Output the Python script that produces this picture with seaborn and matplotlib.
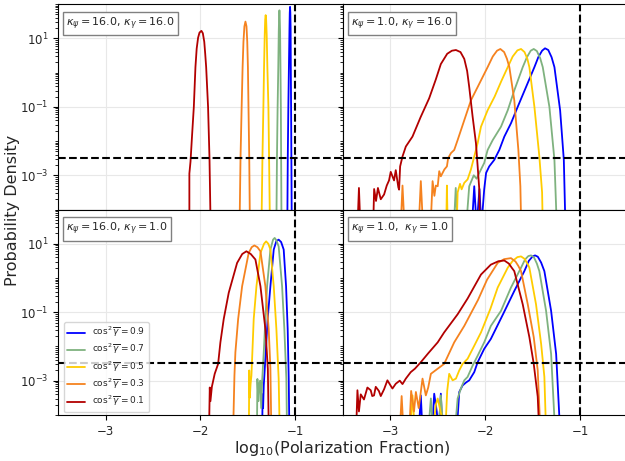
import numpy as np
import matplotlib
matplotlib.use("Agg")
import matplotlib.pyplot as plt
import seaborn as sns
from matplotlib.ticker import LogLocator, NullFormatter

# values: x = log10(polarization fraction), y = log10(probability density)
COS2 = ["0.9", "0.7", "0.5", "0.3", "0.1"]
COLORS = ["#0000ff", "#7fb27f", "#ffcc00", "#f5821f", "#b20000"]
PANEL_LABELS = [
    r"$\kappa_\psi = 16.0$, $\kappa_\gamma = 16.0$",
    r"$\kappa_\psi = 1.0$, $\kappa_\gamma = 16.0$",
    r"$\kappa_\psi = 16.0$, $\kappa_\gamma = 1.0$",
    r"$\kappa_\psi = 1.0$,  $\kappa_\gamma = 1.0$",
]
X_CUT = -1.0
Y_CUT = 3.2e-3

# top left: kappa_psi = 16, kappa_gamma = 16
tl_09_x = [-1.085, -1.08, -1.074, -1.068, -1.062, -1.059, -1.056, -1.053, -1.05, -1.048, -1.045, -1.042, -1.038]
tl_09_y = [-4.5, -2.5, -1.0, 0.16, 1.3, 1.75, 1.92, 1.75, 1.3, 0.16, -1.0, -2.5, -4.5]
tl_07_x = [-1.2, -1.194, -1.187, -1.18, -1.175, -1.171, -1.168, -1.165, -1.161, -1.157, -1.153, -1.15, -1.146]
tl_07_y = [-4.5, -2.5, -1.0, 0.16, 1.2, 1.65, 1.82, 1.65, 1.2, 0.16, -1.0, -2.5, -4.5]
tl_05_x = [-1.357, -1.347, -1.337, -1.33, -1.323, -1.318, -1.313, -1.308, -1.302, -1.295, -1.284, -1.277, -1.268]
tl_05_y = [-4.5, -2.5, -1.0, 0.16, 1.1, 1.55, 1.68, 1.55, 1.1, 0.16, -1.0, -2.5, -4.5]
tl_03_x = [-1.588, -1.578, -1.566, -1.556, -1.547, -1.537, -1.526, -1.515, -1.507, -1.5, -1.494, -1.486, -1.479]
tl_03_y = [-4.5, -2.5, -1.0, 0.16, 0.9, 1.35, 1.49, 1.35, 0.9, 0.16, -1.0, -2.5, -4.5]
tl_01_x = [-2.117, -2.117, -2.105, -2.09, -2.07, -2.053, -2.04, -2.025, -2.01, -1.99, -1.975, -1.96,
           -1.95, -1.94, -1.92, -1.905, -1.893]
tl_01_y = [-4.5, -2.95, -2.6, -1.9, -1.0, 0.16, 0.7, 1.02, 1.17, 1.22, 1.15, 0.9,
           0.55, 0.16, -1.0, -2.5, -4.5]

# top right: kappa_psi = 1, kappa_gamma = 16
tr_09_x = [-2.14, -2.115, -2.09, -2.06, -2.04, -2.01, -1.99, -1.957, -1.904, -1.851, -1.798, -1.728,
           -1.657, -1.569, -1.481, -1.44, -1.40, -1.369, -1.335, -1.30, -1.27, -1.21, -1.171, -1.154]
tr_09_y = [-4.5, -3.32, -4.5, -3.4, -4.5, -3.41, -2.93, -2.74, -2.55, -2.26, -1.87, -1.48,
           -1.0, -0.42, 0.16, 0.45, 0.64, 0.71, 0.66, 0.45, 0.16, -1.1, -2.55, -4.5]
tr_07_x = [-2.33, -2.31, -2.29, -2.20, -2.168, -2.12, -2.09, -2.062, -2.01, -1.974, -1.92, -1.833,
           -1.762, -1.693, -1.604, -1.56, -1.52, -1.488, -1.455, -1.42, -1.393, -1.323, -1.27, -1.245]
tr_07_y = [-4.5, -3.37, -4.5, -4.5, -3.32, -3.0, -3.1, -2.93, -2.64, -2.26, -1.97, -1.58,
           -1.1, -0.52, 0.16, 0.45, 0.64, 0.69, 0.63, 0.42, 0.16, -1.0, -2.55, -4.5]
tr_05_x = [-2.41, -2.403, -2.395, -2.30, -2.29, -2.265, -2.248, -2.22, -2.185, -2.15, -2.115, -2.079,
           -2.044, -1.974, -1.90, -1.83, -1.762, -1.71, -1.66, -1.622, -1.585, -1.555, -1.534,
           -1.481, -1.429, -1.40, -1.393]
tr_05_y = [-4.5, -3.3, -4.5, -4.5, -3.5, -3.25, -3.41, -3.22, -3.12, -2.83, -2.45, -2.06,
           -1.58, -1.1, -0.7, -0.25, 0.16, 0.47, 0.65, 0.69, 0.6, 0.4, 0.16,
           -1.0, -2.45, -3.5, -4.5]
tr_03_x = [-2.89, -2.871, -2.85, -2.70, -2.678, -2.655, -2.575, -2.554, -2.535, -2.52, -2.50, -2.484,
           -2.467, -2.43, -2.403, -2.39, -2.36, -2.326, -2.29, -2.22, -2.15, -2.079, -1.974, -1.92,
           -1.875, -1.84, -1.80, -1.77, -1.745, -1.693, -1.65, -1.629, -1.62]
tr_03_y = [-4.5, -3.3, -4.5, -4.5, -3.17, -4.5, -4.5, -3.17, -3.6, -3.3, -3.32, -2.88,
           -3.03, -2.83, -2.74, -2.5, -2.35, -2.26, -1.97, -1.39, -0.81, -0.42, 0.16, 0.47,
           0.64, 0.69, 0.6, 0.4, 0.16, -0.81, -2.26, -3.32, -4.5]
tr_01_x = [-3.345, -3.33, -3.315, -3.18, -3.17, -3.15, -3.13, -3.10, -3.065, -3.037, -3.013, -2.995,
           -2.96, -2.942, -2.915, -2.907, -2.896, -2.871, -2.836, -2.766, -2.68, -2.59, -2.52,
           -2.467, -2.40, -2.35, -2.308, -2.26, -2.22, -2.19, -2.168, -2.132, -2.097, -2.079,
           -2.062, -2.057]
tr_01_y = [-4.5, -3.37, -4.5, -4.5, -3.4, -3.75, -3.37, -3.7, -3.56, -3.3, -3.15, -2.9,
           -3.15, -2.85, -3.35, -3.42, -2.74, -2.45, -2.16, -1.87, -1.3, -0.75, -0.2,
           0.25, 0.55, 0.64, 0.66, 0.6, 0.40, 0.05, -0.42, -1.29, -2.06, -2.74,
           -3.41, -4.5]

# bottom left: kappa_psi = 16, kappa_gamma = 1
bl_09_x = [-1.35, -1.345, -1.34, -1.333, -1.316, -1.292, -1.263, -1.228, -1.2, -1.176, -1.15, -1.123,
           -1.098, -1.081, -1.07, -1.063]
bl_09_y = [-4.5, -3.4, -3.8, -3.14, -2.36, -1.2, -0.24, 0.83, 1.08, 1.12, 1.05, 0.83,
           -0.24, -1.49, -2.94, -4.5]
bl_07_x = [-1.405, -1.40, -1.39, -1.38, -1.37, -1.36, -1.35, -1.333, -1.316, -1.298, -1.263, -1.235,
           -1.218, -1.2, -1.176, -1.14, -1.116, -1.095, -1.088]
bl_07_y = [-4.5, -2.95, -3.6, -3.1, -3.0, -3.8, -3.0, -2.17, -1.2, -0.24, 0.83, 1.12,
           1.17, 1.1, 0.92, -0.24, -1.49, -2.94, -4.5]
bl_05_x = [-1.49, -1.486, -1.48, -1.472, -1.463, -1.453, -1.439, -1.41, -1.368, -1.33, -1.308, -1.285,
           -1.263, -1.228, -1.2, -1.176, -1.165]
bl_05_y = [-4.5, -2.7, -3.5, -3.1, -2.85, -2.17, -1.2, -0.24, 0.73, 1.0, 1.07, 1.0,
           0.83, -0.24, -1.49, -2.94, -4.5]
bl_03_x = [-1.656, -1.642, -1.632, -1.603, -1.561, -1.492, -1.46, -1.432, -1.40, -1.368, -1.316,
           -1.281, -1.263, -1.253]
bl_03_y = [-4.5, -2.85, -2.17, -1.2, -0.24, 0.73, 0.9, 0.95, 0.9, 0.78, -0.24,
           -1.49, -2.65, -4.5]
bl_01_x = [-1.91, -1.902, -1.895, -1.88, -1.85, -1.814, -1.79, -1.755, -1.702, -1.614, -1.56, -1.516,
           -1.47, -1.421, -1.368, -1.316, -1.29, -1.28]
bl_01_y = [-4.5, -3.2, -3.6, -3.18, -2.8, -2.51, -1.88, -1.2, -0.43, 0.44, 0.7, 0.78,
           0.7, 0.54, -0.24, -1.49, -2.65, -4.5]

# bottom right: kappa_psi = 1, kappa_gamma = 1
br_09_x = [-2.70, -2.678, -2.66, -2.56, -2.537, -2.51, -2.49, -2.467, -2.45, -2.30, -2.273, -2.238,
           -2.20, -2.168, -2.115, -2.079, -2.01, -1.94, -1.81, -1.693, -1.587, -1.54, -1.50, -1.474,
           -1.445, -1.41, -1.376, -1.305, -1.252, -1.21]
br_09_y = [-4.5, -3.43, -4.5, -4.5, -3.38, -3.9, -4.5, -3.38, -4.5, -4.5, -3.33, -3.14,
           -3.05, -2.99, -2.75, -2.46, -2.07, -1.78, -1.05, -0.38, 0.2, 0.5, 0.63, 0.66,
           0.62, 0.45, 0.2, -0.96, -2.22, -4.5]
br_07_x = [-2.60, -2.572, -2.55, -2.49, -2.467, -2.44, -2.32, -2.29, -2.256, -2.22, -2.185, -2.132,
           -2.079, -2.01, -1.94, -1.833, -1.728, -1.622, -1.58, -1.545, -1.516, -1.485, -1.455,
           -1.429, -1.358, -1.305, -1.263]
br_07_y = [-4.5, -3.52, -4.5, -4.5, -3.43, -4.5, -4.5, -3.52, -3.23, -2.99, -2.89, -2.56,
           -2.27, -1.88, -1.40, -0.96, -0.28, 0.3, 0.54, 0.64, 0.66, 0.6, 0.42,
           0.2, -0.96, -2.22, -4.5]
br_05_x = [-2.79, -2.766, -2.74, -2.55, -2.52, -2.50, -2.47, -2.42, -2.40, -2.379, -2.343, -2.308,
           -2.273, -2.238, -2.185, -2.115, -2.044, -1.946, -1.868, -1.762, -1.71, -1.66, -1.622,
           -1.585, -1.555, -1.534, -1.464, -1.41, -1.376, -1.358]
br_05_y = [-4.5, -3.43, -4.5, -4.5, -3.7, -3.52, -3.9, -4.5, -3.3, -2.80, -2.99, -2.94,
           -2.70, -2.51, -2.36, -1.98, -1.59, -0.91, -0.28, 0.3, 0.5, 0.61, 0.63,
           0.56, 0.42, 0.3, -0.77, -1.93, -2.89, -4.5]
br_03_x = [-2.90, -2.88, -2.86, -2.80, -2.78, -2.75, -2.73, -2.70, -2.66, -2.625, -2.60, -2.572,
           -2.50, -2.432, -2.326, -2.22, -2.075, -1.98, -1.868, -1.80, -1.728, -1.68, -1.65,
           -1.622, -1.551, -1.488, -1.446, -1.418]
br_03_y = [-4.5, -3.45, -4.5, -4.5, -3.3, -3.9, -3.33, -3.8, -2.94, -3.43, -3.2, -2.8,
           -2.65, -2.51, -1.88, -1.4, -0.64, -0.05, 0.44, 0.55, 0.58, 0.48, 0.35,
           0.2, -0.77, -1.73, -2.7, -4.5]
br_01_x = [-3.36, -3.346, -3.33, -3.311, -3.277, -3.241, -3.206, -3.19, -3.171, -3.153, -3.12, -3.10,
           -3.065, -3.03, -2.995, -2.977, -2.942, -2.90, -2.871, -2.836, -2.784, -2.74, -2.678,
           -2.60, -2.50, -2.432, -2.29, -2.185, -2.044, -1.94, -1.86, -1.798, -1.75, -1.72,
           -1.693, -1.604, -1.534, -1.488, -1.446, -1.43]
br_01_y = [-4.5, -3.28, -3.9, -3.4, -3.55, -3.2, -3.28, -3.45, -3.43, -3.18, -3.3, -3.45,
           -3.25, -2.99, -3.15, -3.23, -3.09, -3.0, -3.1, -2.94, -2.75, -2.65, -2.46,
           -2.2, -1.88, -1.59, -1.06, -0.6, 0.1, 0.39, 0.49, 0.51, 0.42, 0.3,
           0.2, -0.77, -1.73, -2.51, -3.47, -4.5]

PANELS = [
    [(tl_09_x, tl_09_y), (tl_07_x, tl_07_y), (tl_05_x, tl_05_y), (tl_03_x, tl_03_y), (tl_01_x, tl_01_y)],
    [(tr_09_x, tr_09_y), (tr_07_x, tr_07_y), (tr_05_x, tr_05_y), (tr_03_x, tr_03_y), (tr_01_x, tr_01_y)],
    [(bl_09_x, bl_09_y), (bl_07_x, bl_07_y), (bl_05_x, bl_05_y), (bl_03_x, bl_03_y), (bl_01_x, bl_01_y)],
    [(br_09_x, br_09_y), (br_07_x, br_07_y), (br_05_x, br_05_y), (br_03_x, br_03_y), (br_01_x, br_01_y)],
]

sns.set_style("whitegrid", {"axes.edgecolor": "black", "grid.color": "#e8e8e8",
                            "axes.linewidth": 1.0})
plt.rcParams["font.family"] = ["DejaVu Sans"]

fig, axes = plt.subplots(2, 2, figsize=(6.25, 4.61), dpi=100, sharex=True, sharey=True)
fig.subplots_adjust(left=0.093, right=1.004, top=0.991, bottom=0.1, wspace=0, hspace=0)

for idx, ax in enumerate(axes.flat):
    for (xs, ys), c, lab in zip(PANELS[idx], COLORS, COS2):
        sns.lineplot(x=xs, y=10 ** np.array(ys), estimator=None, sort=False, color=c, lw=1.3,
                     label=r"$\cos^2\overline{\gamma} = %s$" % lab, legend=False, ax=ax)
    ax.axvline(X_CUT, color="black", ls="--", lw=1.5)
    ax.axhline(Y_CUT, color="black", ls="--", lw=1.5)
    ax.set_yscale("log")
    ax.set_xlim(-3.5, -0.5)
    ax.set_ylim(1e-4, 1e2)
    ax.set_xticks([-3, -2, -1])
    ax.set_yticks([1e-3, 1e-1, 1e1])
    ax.yaxis.set_minor_locator(LogLocator(base=10, subs=np.arange(1, 10) * 1.0, numticks=20))
    ax.yaxis.set_minor_formatter(NullFormatter())
    ax.tick_params(which="both", left=True, right=True, bottom=True, direction="out", labelsize=8.5,
                   color="black")
    ax.tick_params(which="major", length=3.5, width=0.8)
    ax.tick_params(which="minor", length=2, width=0.6)
    ax.grid(True, which="major", color="#e8e8e8", lw=0.8)
    ax.grid(False, which="minor")
    ax.set_xlabel("")
    ax.set_ylabel("")
    ax.text(0.029, 0.945, PANEL_LABELS[idx], transform=ax.transAxes, fontsize=8, va="top", ha="left",
            bbox=dict(boxstyle="square,pad=0.3", fc="white", ec="gray", lw=1.0))

axes[1, 0].legend(loc="lower left", fontsize=6.5, frameon=True, framealpha=0.8, edgecolor="#cccccc",
                  handlelength=2.0, labelspacing=0.25, borderpad=0.35, bbox_to_anchor=(0.005, -0.01))

fig.text(342 / 625, 1 - 448 / 461, r"log$_{10}$(Polarization Fraction)", ha="center", va="center",
         fontsize=11.5)
fig.text(13 / 625, 1 - 210 / 461, "Probability Density", ha="center", va="center", rotation=90,
         fontsize=11.5)

fig.savefig("out.png", dpi=100)
